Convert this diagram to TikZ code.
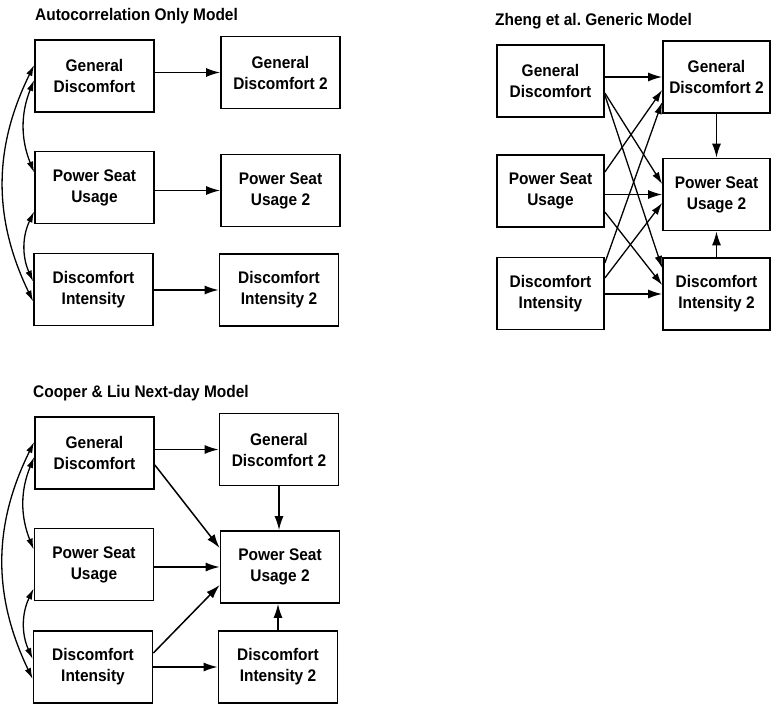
\documentclass[tikz,border=0pt]{standalone}
\usepackage{fontspec}
\setmainfont{Liberation Sans}[FakeStretch=0.92]
\usepackage{tikz}
\usetikzlibrary{arrows.meta}
\tikzset{
	>={Latex[length=14pt, width=9pt]},
	var/.style={draw=black, line width=1.7pt, fill=white, minimum width=119pt, minimum height=72pt,
		inner sep=0pt, align=center, font=\bfseries\fontsize{16.8}{21}\selectfont},
	varnarrow/.style={var, minimum width=107pt},
	link/.style={black, line width=1.5pt, ->},
	diag/.style={black, line width=1.3pt, -{Latex[length=12pt, width=7.5pt]}},
	corr/.style={black, line width=1.3pt, {Latex[length=11pt, width=6.5pt]}-{Latex[length=11pt, width=6.5pt]}},
	heading/.style={anchor=base west, inner sep=0pt, font=\bfseries\fontsize{16.8}{19}\selectfont},
}

\begin{document}
\begin{tikzpicture}[x=1pt, y=-1pt]
		\useasboundingbox (0,0) rectangle (776,709);
		
		% autocorrelation only model
		\node[heading] (Atitle) at (35,21) {Autocorrelation Only Model};
		\node[var] (AGD)  at (94.5,76)    {General\\Discomfort};
		\node[var] (AGD2) at (280.5,72.5) {General\\Discomfort 2};
		\node[var] (APS)  at (94.5,187.5) {Power Seat\\Usage};
		\node[var] (APS2) at (280.5,190.5) {Power Seat\\Usage 2};
		\node[var] (ADI)  at (93.5,289.5) {Discomfort\\Intensity};
		\node[var] (ADI2) at (279,290)    {Discomfort\\Intensity 2};
		
		\draw[link] (AGD.east |- AGD2) -- (AGD2);
		\draw[link] (APS.east |- APS2) -- (APS2);
		\draw[link] (ADI.east |- ADI2) -- (ADI2);
		
		\draw[corr] ([yshift=11pt]AGD.west) to[bend right=26] ([yshift=-12pt]ADI.west);
		\draw[corr] ([yshift=-4pt]AGD.west) to[bend right=22] ([yshift=15pt]APS.west);
		\draw[corr] ([yshift=-24pt]APS.west) to[bend right=25] ([yshift=8pt]ADI.west);
		
		% zheng et al. generic model
		\node[heading] (Ztitle) at (495,26) {Zheng et al.\ Generic Model};
		\node[varnarrow] (ZGD)  at (550.5,81)  {General\\Discomfort};
		\node[varnarrow] (ZGD2) at (716.5,77)  {General\\Discomfort 2};
		\node[varnarrow] (ZPS)  at (550.5,191) {Power Seat\\Usage};
		\node[varnarrow] (ZPS2) at (716.5,194.5) {Power Seat\\Usage 2};
		\node[varnarrow] (ZDI)  at (550.5,293.5) {Discomfort\\Intensity};
		\node[varnarrow] (ZDI2) at (716.5,294) {Discomfort\\Intensity 2};
		
		\draw[link] (ZGD.east |- ZGD2) -- (ZGD2);
		\draw[link] (ZPS.east |- ZPS2) -- (ZPS2);
		\draw[link] (ZDI.east |- ZDI2) -- (ZDI2);
		\draw[link] (ZGD2) -- (ZPS2);
		\draw[link] (ZDI2) -- (ZPS2);
		
		% cross-lagged paths
		\draw[diag] ([yshift=-12pt]ZGD.east) -- ([yshift=10.5pt]ZPS2.west);
		\draw[diag] ([yshift=-14pt]ZGD.east) -- ([yshift=26pt]ZDI2.west);
		\draw[diag] ([yshift=19pt]ZPS.east) -- ([yshift=-13pt]ZGD2.west);
		\draw[diag] ([yshift=-21pt]ZPS.east) -- ([yshift=9pt]ZDI2.west);
		\draw[diag] ([yshift=30.5pt]ZDI.east) -- ([yshift=-25pt]ZGD2.west);
		\draw[diag] ([yshift=15.5pt]ZDI.east) -- ([yshift=-8.5pt]ZPS2.west);
		
		% cooper & liu next-day model
		\node[heading] (Ctitle) at (33,397) {Cooper \& Liu Next-day Model};
		\node[var] (CGD)  at (94.5,453)  {General\\Discomfort};
		\node[var] (CGD2) at (279,449.5) {General\\Discomfort 2};
		\node[var] (CPS)  at (94,564.5)  {Power Seat\\Usage};
		\node[var] (CPS2) at (280,567)   {Power Seat\\Usage 2};
		\node[var] (CDI)  at (93,667)    {Discomfort\\Intensity};
		\node[var] (CDI2) at (278,667)   {Discomfort\\Intensity 2};
		
		\draw[link] (CGD.east |- CGD2) -- (CGD2);
		\draw[link] (CPS.east |- CPS2) -- (CPS2);
		\draw[link] (CDI) -- (CDI2);
		\draw[link] ([yshift=-12pt]CGD.east) -- ([yshift=19pt]CPS2.west);
		\draw[link] ([yshift=14pt]CDI.east) -- ([yshift=-18pt]CPS2.west);
		\draw[link] (CGD2) -- (CGD2 |- CPS2.north);
		\draw[link] (CDI2) -- (CDI2 |- CPS2.south);
		
		\draw[corr] ([yshift=11pt]CGD.west) to[bend right=26] ([yshift=-12pt]CDI.west);
		\draw[corr] ([yshift=-4pt]CGD.west) to[bend right=22] ([yshift=15pt]CPS.west);
		\draw[corr] ([yshift=-24pt]CPS.west) to[bend right=25] ([yshift=8pt]CDI.west);
	\end{tikzpicture}
\end{document}
